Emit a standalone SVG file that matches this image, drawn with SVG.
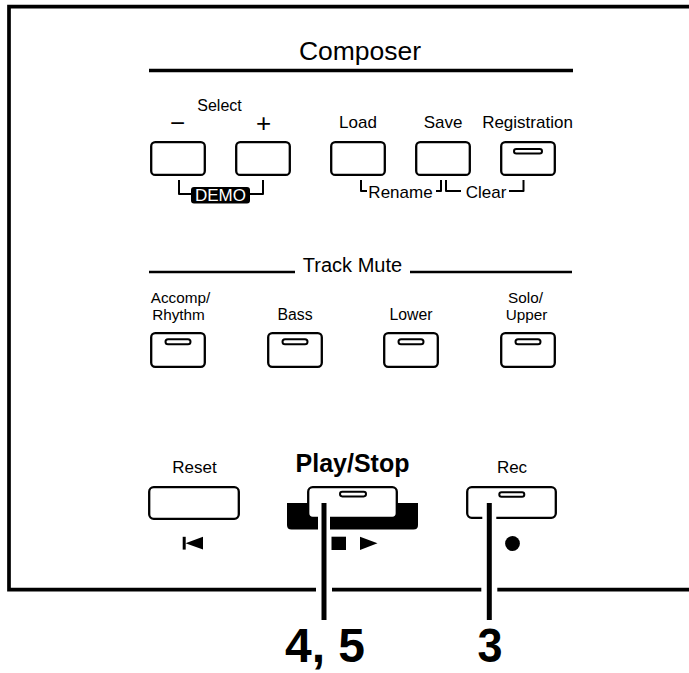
<svg xmlns="http://www.w3.org/2000/svg" width="689" height="673" viewBox="0 0 689 673">
<style>
text{font-family:"Liberation Sans",Arial,sans-serif;fill:#000;text-anchor:middle}
.btn{fill:#fff;stroke:#000;stroke-width:2.3}
.led{fill:#fff;stroke:#000;stroke-width:2}
.brk{fill:none;stroke:#000;stroke-width:2;stroke-linejoin:round}
.lbl{font-size:17px}
.sm{font-size:15.3px}
.lead{stroke:#000;stroke-width:5}
.halo{stroke:#fff}
</style>
<rect width="689" height="673" fill="#fff"/>
<g id="frame">
<path d="M689,6.7 H9 V589.7 H689" fill="none" stroke="#000" stroke-width="3.7"/>
</g>
<g id="composer-header">
<text x="360" y="60" font-size="26.5">Composer</text>
<line x1="149" y1="70.5" x2="573" y2="70.5" stroke="#000" stroke-width="3.6"/>
</g>
<g id="select-minus">
<text x="219.5" y="111" font-size="16">Select</text>
<text x="177.5" y="132" font-size="26">−</text>
<rect class="btn" x="151.2" y="142.2" width="53.6" height="32.7" rx="4"/>
</g>
<g id="select-plus">
<text x="263.5" y="132" font-size="26">+</text>
<rect class="btn" x="236.2" y="142.2" width="53.6" height="32.7" rx="4"/>
</g>
<g id="demo">
<path class="brk" d="M179,180 V194 H192"/>
<path class="brk" d="M250,194 H263 V180"/>
<rect x="191" y="187" width="59" height="16.5" rx="3" fill="#000"/>
<text x="220.5" y="201.3" font-size="17" style="fill:#fff">DEMO</text>
</g>
<g id="load">
<text class="lbl" x="358" y="128.3">Load</text>
<rect class="btn" x="331.2" y="142.2" width="53.6" height="32.7" rx="4"/>
</g>
<g id="save">
<text class="lbl" x="443" y="128.3">Save</text>
<rect class="btn" x="416.2" y="142.2" width="53.6" height="32.7" rx="4"/>
</g>
<g id="registration">
<text class="lbl" x="527.5" y="128.3">Registration</text>
<rect class="btn" x="501.2" y="142.2" width="53.6" height="32.7" rx="4"/>
<rect class="led" x="514" y="149" width="28" height="4.6" rx="2.3"/>
</g>
<g id="rename">
<path class="brk" d="M361,180 V191 H367"/>
<text x="400.5" y="197.7" font-size="17">Rename</text>
<path class="brk" d="M436,191 H441 V180"/>
</g>
<g id="clear">
<path class="brk" d="M446,180 V191 H461"/>
<text x="486" y="197.7" font-size="17">Clear</text>
<path class="brk" d="M509,191 H523.5 V180"/>
</g>
<g id="track-mute-header">
<line x1="149" y1="272" x2="295" y2="272" stroke="#000" stroke-width="2.4"/>
<text x="352.5" y="271.5" font-size="20">Track Mute</text>
<line x1="410" y1="272" x2="572" y2="272" stroke="#000" stroke-width="2.4"/>
</g>
<g id="accomp-rhythm">
<text class="sm" x="180.5" y="303">Accomp/</text>
<text class="sm" x="178.5" y="320">Rhythm</text>
<rect class="btn" x="151.2" y="333.2" width="53.6" height="33.6" rx="4"/>
<rect class="led" x="165.5" y="339.2" width="25" height="5" rx="2.5"/>
</g>
<g id="bass">
<text x="295" y="320" font-size="15.8">Bass</text>
<rect class="btn" x="268.2" y="333.2" width="53.6" height="33.6" rx="4"/>
<rect class="led" x="282.5" y="339.2" width="25" height="5" rx="2.5"/>
</g>
<g id="lower">
<text x="411" y="320" font-size="15.8">Lower</text>
<rect class="btn" x="384.2" y="333.2" width="53.6" height="33.6" rx="4"/>
<rect class="led" x="398.5" y="339.2" width="25" height="5" rx="2.5"/>
</g>
<g id="solo-upper">
<text class="sm" x="525.5" y="303">Solo/</text>
<text class="sm" x="526.5" y="320">Upper</text>
<rect class="btn" x="501.2" y="333.2" width="53.6" height="33.6" rx="4"/>
<rect class="led" x="515.5" y="339.2" width="25" height="5" rx="2.5"/>
</g>
<g id="reset">
<text class="lbl" x="194.5" y="473">Reset</text>
<rect class="btn" x="149.2" y="487.2" width="89.6" height="31.6" rx="4.5"/>
<rect x="182.7" y="536.8" width="3" height="12.8" fill="#000"/>
<polygon points="185.5,543.2 203,536.8 203,549.6" fill="#000"/>
</g>
<g id="play-stop">
<text x="352.5" y="472" font-size="25" font-weight="bold">Play/Stop</text>
<path d="M287,503 H418 V525 Q418,529.5 413.5,529.5 H291.5 Q287,529.5 287,525 Z" fill="#000"/>
<rect class="btn" x="308.2" y="487.2" width="88.6" height="30.6" rx="4.5"/>
<rect class="led" x="340" y="491.8" width="26" height="4.6" rx="2.3"/>
<rect x="331.5" y="536.7" width="14.5" height="13.3" fill="#000"/>
<polygon points="360,536.7 377.5,543.3 360,550" fill="#000"/>
</g>
<g id="rec">
<text class="lbl" x="512" y="473">Rec</text>
<rect class="btn" x="467.2" y="487.2" width="88.6" height="30.6" rx="4.5"/>
<rect class="led" x="499.3" y="492.3" width="25" height="4.4" rx="2.2"/>
<circle cx="512.5" cy="543.5" r="7.4" fill="#000"/>
</g>
<g id="connectors">
<line class="halo" x1="324" y1="505" x2="324" y2="532" stroke-width="12"/>
<line class="halo" x1="324" y1="584" x2="324" y2="595" stroke-width="16"/>
<line class="halo" x1="489.3" y1="512" x2="489.3" y2="523" stroke-width="14"/>
<line class="halo" x1="489.3" y1="584" x2="489.3" y2="595" stroke-width="16"/>
<line class="lead" x1="324" y1="503" x2="324" y2="620"/>
<line class="lead" x1="489.3" y1="503" x2="489.3" y2="620"/>
</g>
<g id="step-labels">
<text x="325" y="662" font-size="48" font-weight="bold" textLength="80" lengthAdjust="spacingAndGlyphs">4, 5</text>
<text x="490" y="662" font-size="48" font-weight="bold" textLength="25" lengthAdjust="spacingAndGlyphs">3</text>
</g>
</svg>
